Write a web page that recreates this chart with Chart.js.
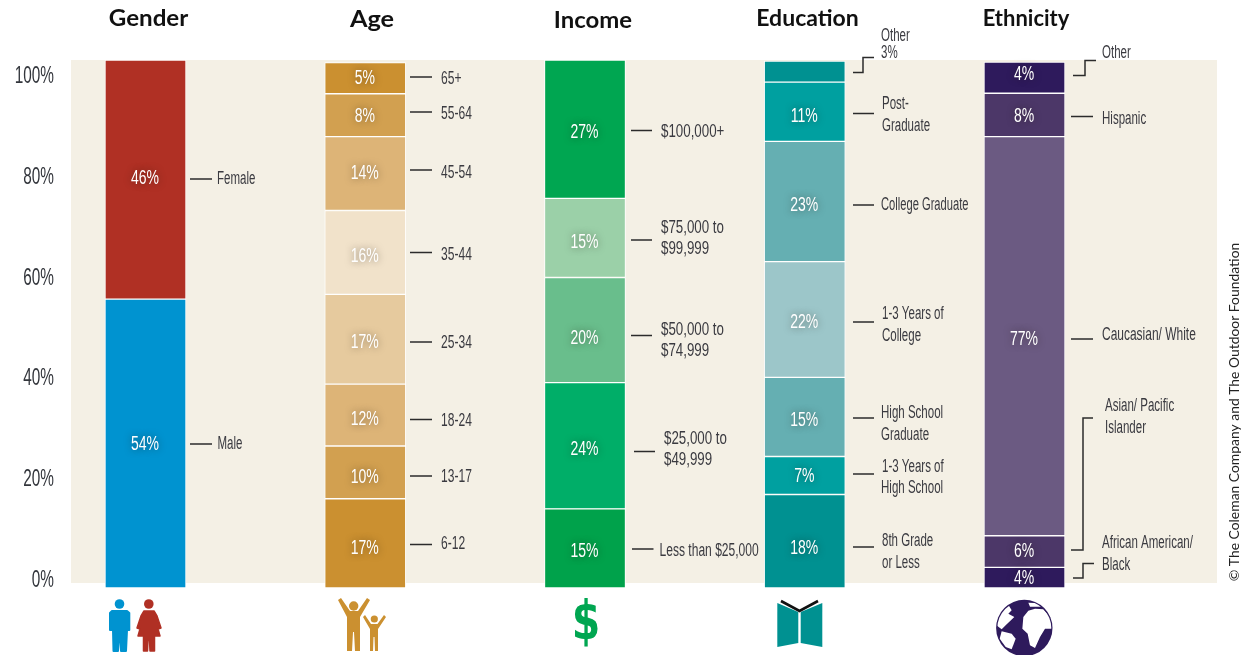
<!DOCTYPE html>
<html><head><meta charset="utf-8">
<style>html,body{margin:0;padding:0;background:#fff}canvas{display:block}</style>
<script src="https://cdn.jsdelivr.net/npm/chart.js@4"></script></head>
<body><div style="width:1243px;height:655px"><canvas id="c"></canvas></div>
<script>
// Data: segment shares in percent, bottom to top, as drawn in the picture
const categories = ['Gender','Age','Income','Education','Ethnicity'];
const genderLabels = ['Male','Female'];
const genderValues = [54.7,45.3];
const genderText = ['54%','46%'];
const ageLabels = ['6-12','13-17','18-24','25-34','35-44','45-54','55-64','65+'];
const ageValues = [16.9,10,11.7,17,15.9,14,8.1,5.9];
const ageText = ['17%','10%','12%','17%','16%','14%','8%','5%'];
const incomeLabels = ['Less than $25,000','$25,000 to $49,999','$50,000 to $74,999','$75,000 to $99,999','$100,000+'];
const incomeValues = [15,23.9,19.9,15,26.2];
const incomeText = ['15%','24%','20%','15%','27%'];
const educationLabels = ['8th Grade or Less','1-3 Years of High School','High School Graduate','1-3 Years of College','College Graduate','Post-Graduate','Other'];
const educationValues = [17.7,7.2,15,21.9,22.8,11.2,4];
const educationText = ['18%','7%','15%','22%','23%','11%',''];
const ethnicityLabels = ['Black','African American','Caucasian','Hispanic','Other'];
const ethnicityValues = [3.9,6,75.6,8.2,5.9];
const ethnicityText = ['4%','6%','77%','8%','4%'];
const yTickValues = [0,20,40,60,80,100];

// Styles
const genderColors = ['#0093D0','#B03024'];
const ageColors = ['#CB9030','#D2A050','#DDB477','#E6CA9E','#F1E2CA','#DDB477','#D2A050','#CB9030'];
const incomeColors = ['#00A24B','#00AE68','#69BE8C','#9BD0A8','#00A651'];
const educationColors = ['#009191','#00A0A0','#65AFB2','#9CC6C9','#65AFB2','#00A0A0','#009191'];
const ethnicityColors = ['#2E1A5C','#4C3768','#6B5A82','#4C3768','#2E1A5C'];
const NARROW = '"Liberation Sans",sans-serif';
const BEIGE = '#F4F0E5';
const INK = '#3A3A40';

// Vertical placement of the printed percentages, column by column
const printedY = [[443,177],[547,476,418,341,255,172,115,77],[550,448,337,241,131],[547,475,419,321,204,115,0],[577,550,338,115,73]];

const columns = [
 [genderLabels,genderValues,genderText,genderColors],
 [ageLabels,ageValues,ageText,ageColors],
 [incomeLabels,incomeValues,incomeText,incomeColors],
 [educationLabels,educationValues,educationText,educationColors],
 [ethnicityLabels,ethnicityValues,ethnicityText,ethnicityColors]
];
const datasets = [];
columns.forEach((col,ci)=>{
  col[1].forEach((v,si)=>{
    datasets.push({label:categories[ci]+': '+col[0][si],data:[{x:ci,y:v}],backgroundColor:col[3][si],
      borderColor:'rgba(255,255,255,0.92)',borderWidth:1,borderSkipped:false,barThickness:81,stack:'all',
      yAxisID:'y',printed:col[2][si],printedAt:printedY[ci][si],clip:false});
  });
});

// Annotation layout: [text, x, y, optional horizontal squeeze] and leader polylines
const W=0.74,A=0.67;
const notes = [
 ['Female',217,178],['Male',217.5,442.5],
 ['65+',441,78,A],['55-64',441,113,A],['45-54',441,172,A],['35-44',441,254,A],['25-34',441,342,A],['18-24',441,419.5,A],['13-17',441,476,A],['6-12',441,543,A],
 ['$100,000+',661,131,W],['$75,000 to',661,227,W],['$99,999',661,247.5,W],['$50,000 to',661,329,W],['$74,999',661,350,W],['$25,000 to',664,438,W],['$49,999',664,459,W],['Less than $25,000',659.5,549.5,A],
 ['Other',881,35],['3%',881,52],['Post-',882,103],['Graduate',882,125],['College Graduate',881,204,0.62],['1-3 Years of',882,313],['College',882,335],['High School',881,412],['Graduate',881,434],['1-3 Years of',882,465.5],['High School',881,487],['8th Grade',882,540],['or Less',882,562],
 ['Other',1102,52],['Hispanic',1102,118],['Caucasian/ White',1102,334,0.665],['Asian/ Pacific',1105,405],['Islander',1105,427],['African American/',1102,541.5],['Black',1102,563.5]
];
const leaders = [
 [[190,179],[212,179]],[[190,444],[212,444]],
 ...[77,112,170,252.5,342,419.5,476,544.5].map(y=>[[410,y],[432,y]]),
 [[631,130.5],[652,130.5]],[[631,240],[652,240]],[[631,335.5],[652,335.5]],[[634,451.5],[655,451.5]],[[632,549],[653.5,549]],
 [[853,72.5],[863,72.5],[863,57.5],[874,57.5]],
 ...[113.5,205,322,418,474,547].map(y=>[[853,y],[874,y]]),
 [[1073,75.5],[1085,75.5],[1085,60.5],[1096,60.5]],[[1071,116.5],[1093,116.5]],[[1071,339],[1093,339]],
 [[1071,550],[1083,550],[1083,418],[1093,418]],[[1073,578],[1083,578],[1083,563.5],[1094,563.5]]
];
const titles = [['Gender',148.5,19,1.05],['Age',372,19.5,1.1],['Income',593,21,1.04],['Education',807.5,19,1],['Ethnicity',1026,19,.955]];

function squeezed(ctx,text,x,y,sx,align){
  ctx.save();ctx.translate(x,y);ctx.scale(sx,1);ctx.textAlign=align||'left';ctx.textBaseline='middle';
  ctx.fillText(text,0,0);ctx.restore();
}
function poly(ctx,pts,fill,round){ctx.beginPath();pts.forEach((p,i)=>i?ctx.lineTo(p[0],p[1]):ctx.moveTo(p[0],p[1]));ctx.closePath();ctx.fillStyle=fill;ctx.fill();
  if(round){ctx.strokeStyle=fill;ctx.lineWidth=round;ctx.lineJoin='round';ctx.stroke();}}
function disc(ctx,x,y,r,fill){ctx.beginPath();ctx.arc(x,y,r,0,Math.PI*2);ctx.fillStyle=fill;ctx.fill();}
function stroke(ctx,pts,color,w){ctx.beginPath();pts.forEach((p,i)=>i?ctx.lineTo(p[0],p[1]):ctx.moveTo(p[0],p[1]));ctx.strokeStyle=color;ctx.lineWidth=w;ctx.lineCap='butt';ctx.lineJoin='miter';ctx.stroke();}

function drawIcons(ctx){
  const b='#0093D0',r='#B03024',a='#CB9030',t='#009191',p='#2E1A5C';
  // man
  disc(ctx,119.5,604,4.8,b);
  poly(ctx,[[112,611],[127,611],[129.3,613],[129.3,630],[127,630],[126,651],[121,651],[120,634],[119,634],[118,651],[113.5,651],[113,630],[110,630],[110,613]],b,2);
  // woman
  disc(ctx,148.8,604,4.8,r);
  poly(ctx,[[144,611],[154,611],[157,616],[161,628],[158,629],[160,636],[154.5,636],[154.5,651],[150,651],[149.5,640],[148,640],[147.5,651],[143.5,651],[143.5,636],[138,636],[140,629],[137,628],[141,616]],r,1.5);
  // adult + child
  disc(ctx,353.7,606,4.7,a);
  poly(ctx,[[338,600],[341,598],[350,611],[358,611],[367,598],[370,600],[360,617],[360,651],[355,651],[354,632],[353,632],[352,651],[347,651],[347,617]],a);
  disc(ctx,374.3,619,3.6,a);
  poly(ctx,[[363,617],[365,615],[371,624],[377.5,624],[384,615],[386,617],[378,629],[378,651],[375,651],[374.5,637],[373.5,637],[373,651],[370,651],[370,629]],a);
  // dollar
  ctx.fillStyle='#00A651';ctx.font='700 54px "DejaVu Sans", sans-serif';
  squeezed(ctx,'$',586,625,.76,'center');
  // book
  poly(ctx,[[777.3,603],[798.3,612],[798.3,643],[777.3,647]],t);
  poly(ctx,[[800.7,612],[822.3,603],[822.3,647],[800.7,643]],t);
  stroke(ctx,[[781,601],[799.5,611],[818,601]],'#111',2.6);
  // globe
  const g=(list)=>list.map(q=>[985+q[0]/3,592+q[1]/3]);
  disc(ctx,1024.3,628,28.2,p);
  ctx.save();ctx.beginPath();ctx.arc(1024.3,628,27,0,Math.PI*2);ctx.clip();
  poly(ctx,g([[30,60],[65,30],[80,55],[70,65],[88,75],[62,100],[50,112],[28,95]]),'#fff');
  poly(ctx,g([[50,118],[80,125],[92,140],[80,172],[62,165],[44,140]]),'#fff');
  poly(ctx,g([[115,75],[130,56],[150,50],[175,52],[200,80],[205,110],[180,110],[165,135],[150,168],[135,160],[128,125],[112,110]]),'#fff');
  poly(ctx,g([[130,32],[175,34],[180,44],[135,44]]),'#fff');
  ctx.restore();
}

const annotate = {
  id:'annotate',
  beforeDatasetsDraw(chart){
    const {ctx}=chart;
    ctx.save();ctx.fillStyle=BEIGE;ctx.fillRect(71,60,1146,523);ctx.restore();
  },
  afterDatasetsDraw(chart){
    const {ctx}=chart;
    ctx.save();
    // axis tick labels, placed by the tick scale
    const s=chart.scales.yTicks;
    ctx.fillStyle='#33363C';ctx.font='24px '+NARROW;
    s.ticks.forEach((t,i)=>squeezed(ctx,t.label,54,s.getPixelForTick(i)+2,0.64,'right'));
    // printed percentages
    chart.data.datasets.forEach((ds,i)=>{
      if(!ds.printed)return;
      const el=chart.getDatasetMeta(i).data[0];
      ctx.save();
      ctx.font='20px '+NARROW;ctx.fillStyle='#fff';ctx.shadowColor='rgba(40,30,20,0.5)';ctx.shadowBlur=7;
      squeezed(ctx,ds.printed,el.x-0.5,ds.printedAt+1,0.7,'center');
      ctx.restore();
    });
    // leaders
    leaders.forEach(l=>stroke(ctx,l,'#2b2b2b',1.5));
    // notes
    ctx.fillStyle=INK;ctx.font='18px '+NARROW;
    notes.forEach(n=>squeezed(ctx,n[0],n[1],n[2]+1.5,n[3]||0.64));
    // titles
    ctx.fillStyle='#111';ctx.font='700 23px Lato, sans-serif';
    titles.forEach(n=>squeezed(ctx,n[0],n[1],n[2],n[3],'center'));
    // copyright
    ctx.save();ctx.translate(1235,412);ctx.rotate(-Math.PI/2);ctx.fillStyle='#222';ctx.font='13.9px Lato, sans-serif';ctx.textAlign='center';ctx.textBaseline='middle';
    ctx.fillText('© The Coleman Company and The Outdoor Foundation',0,0);ctx.restore();
    drawIcons(ctx);
    ctx.restore();
  }
};

new Chart(document.getElementById('c'),{
  type:'bar',
  data:{datasets},
  plugins:[annotate],
  options:{
    responsive:true,maintainAspectRatio:false,animation:false,
    layout:{padding:{left:0,top:60,right:26,bottom:67}},
    plugins:{legend:{display:false},tooltip:{enabled:false},title:{display:false}},
    scales:{
      x:{type:'linear',offset:false,min:-0.339,max:4.876,display:false,stacked:true,grid:{display:false}},
      y:{min:0,max:100,display:false,stacked:true,grid:{display:false}},
      yTicks:{type:'linear',position:'left',min:-1.99,max:102.88,stacked:false,
        grid:{display:false,drawTicks:false},border:{display:false},
        afterBuildTicks(s){s.ticks=yTickValues.map(v=>({value:v}));},
        afterFit(s){s.width=71;},
        ticks:{display:false,callback:v=>v+'%'}
      }
    }
  }
});
</script></body></html>
